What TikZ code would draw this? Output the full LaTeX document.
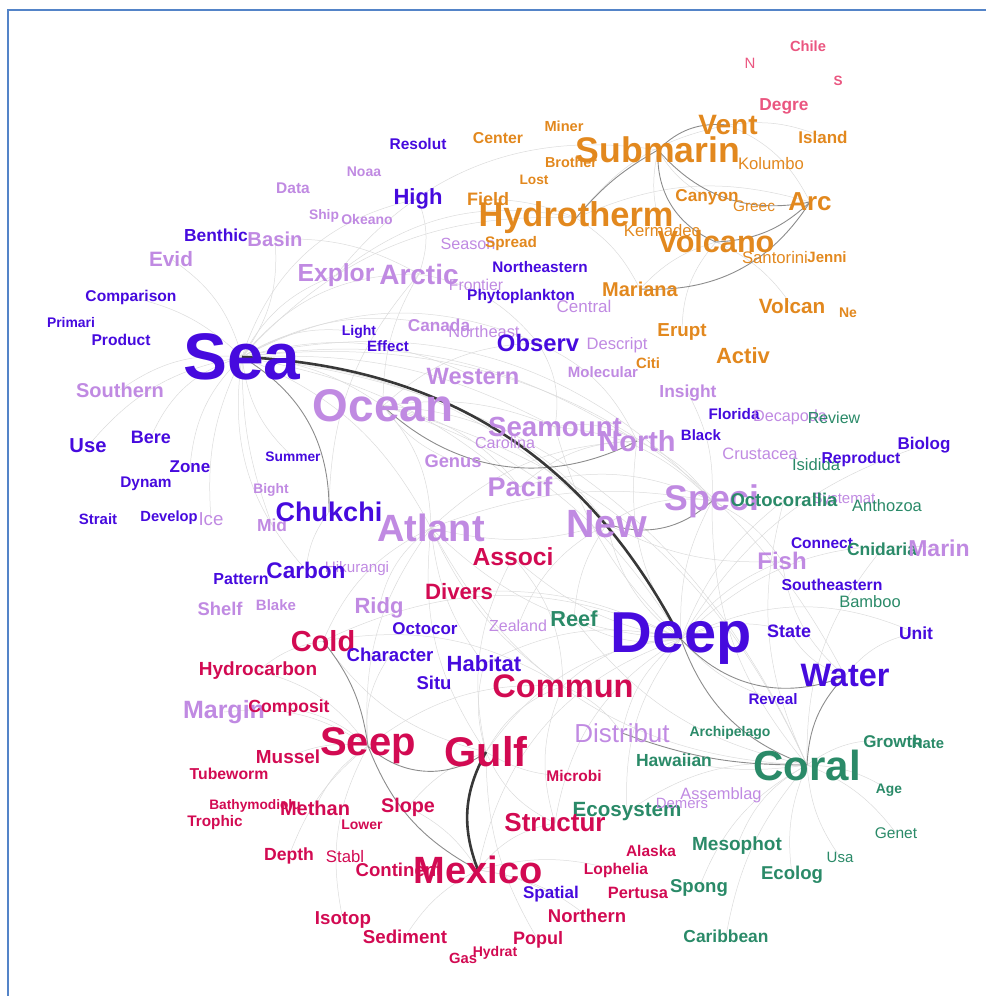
\documentclass[tikz,border=0pt]{standalone}
\usepackage{fontspec}
\setmainfont{Liberation Sans}
\usepackage{xcolor}
\usepackage{tikz}
\usetikzlibrary{backgrounds}

\definecolor{seablue}{RGB}{70,10,222}
\definecolor{lavend}{RGB}{192,138,226}
\definecolor{orng}{RGB}{226,136,30}
\definecolor{crim}{RGB}{210,10,82}
\definecolor{pinkc}{RGB}{234,86,128}
\definecolor{grn}{RGB}{42,138,104}
\definecolor{framec}{RGB}{84,132,200}

\begin{document}
\begin{tikzpicture}[
    x=1pt, y=-1pt,
    wb/.style={inner sep=0pt, font=\bfseries\fontsize{#1}{#1}\selectfont},
    wr/.style={inner sep=0pt, font=\fontsize{#1}{#1}\selectfont},
    bl/.style={text=seablue},
    lv/.style={text=lavend},
    og/.style={text=orng},
    cr/.style={text=crim},
    pk/.style={text=pinkc},
    gn/.style={text=grn},
    lnk/.style={draw=black!14, line width=0.5pt},
    lnkm/.style={draw=black!45, line width=0.9pt},
    lnkd/.style={draw=black!78, line width=2.6pt}
]
    \useasboundingbox (0,0) rectangle (986,996);
    \draw[framec, line width=1.6pt] (8,996) -- (8,10) -- (986,10);

    % volcanic cluster (top right)
    \node[wb=14.7, pk] (chile) at (808,46) {Chile};
    \node[wr=15, pk] (nn) at (750,63) {N};
    \node[wb=13.5, pk] (ss) at (838,81) {S};
    \node[wb=17.3, pk] (degre) at (784,106) {Degre};
    \node[wb=14.6, og] (miner) at (564,126) {Miner};
    \node[wb=15.8, og] (centr) at (498,138) {Center};
    \node[wb=14.4, og] (brother) at (571,162) {Brother};
    \node[wb=13.7, og] (lost) at (534,180) {Lost};
    \node[wb=18, og] (field) at (488,199) {Field};
    \node[wr=16.7, og] (kermadec) at (662,231) {Kermadec};
    \node[wr=15.4, og] (greec) at (754,206) {Greec};
    \node[wb=28, og] (vent) at (728,125) {Vent};
    \node[wb=35.6, og] (submarin) at (658,150) {Submarin};
    \node[wb=17, og] (island) at (823,137) {Island};
    \node[wr=16.7, og] (kolumbo) at (771,164) {Kolumbo};
    \node[wb=17.2, og] (canyon) at (707,197) {Canyon};
    \node[wb=26, og] (arc) at (810,202) {Arc};
    \node[wb=34.4, og] (hydrotherm) at (576,218) {Hydrotherm};
    \node[wb=30.6, og] (volcano) at (716,242) {Volcano};
    \node[wr=16.7, og] (santorini) at (775,258) {Santorini};
    \node[wb=15, og] (jenni) at (827,257) {Jenni};
    \node[wb=20, og] (mariana) at (640,289) {Mariana};
    \node[wb=20.7, og] (volcan) at (792,306) {Volcan};
    \node[wb=14, og] (ne) at (848,313) {Ne};
    \node[wb=18.8, og] (erupt) at (682,332) {Erupt};
    \node[wb=22, og] (activ) at (743,356) {Activ};
    \node[wb=14.9, og] (citi) at (648,363) {Citi};

    % sea / ocean cluster
    \node[wb=15.5, bl] (resolut) at (418,144) {Resolut};
    \node[wb=14, lv] (noaa) at (364,172) {Noaa};
    \node[wb=15.5, lv] (data) at (293,188) {Data};
    \node[wb=22, bl] (high) at (418,199) {High};
    \node[wb=13.8, lv] (ship) at (324,216) {Ship};
    \node[wb=14, lv] (okeano) at (367,219) {Okeano};
    \node[wb=17.4, bl] (benthic) at (216,235) {Benthic};
    \node[wb=20.2, lv] (basin) at (275,239) {Basin};
    \node[wr=16.2, lv] (season) at (468,244) {Season};
    \node[wb=15.3, og] (spread) at (511,244) {Spread};
    \node[wb=20.8, lv] (evid) at (171,259) {Evid};
    \node[wb=15.3, bl] (northeastern) at (540,267) {Northeastern};
    \node[wr=15.7, lv] (frontier) at (476,285) {Frontier};
    \node[wb=24.7, lv] (explor) at (336,275) {Explor};
    \node[wb=28, lv] (arctic) at (419,274) {Arctic};
    \node[wb=15.5, bl] (phytoplankton) at (521,296) {Phytoplankton};
    \node[wb=15.6, bl] (comparison) at (131,297) {Comparison};
    \node[wr=17, lv] (central) at (584,306) {Central};
    \node[wb=13.9, bl] (primari) at (71,323) {Primari};
    \node[wr=16.4, lv] (northeast) at (484,332) {Northeast};
    \node[wb=17.2, lv] (canada) at (439,325) {Canada};
    \node[wb=14, bl] (light) at (359,332) {Light};
    \node[wb=15.6, bl] (product) at (121,340) {Product};
    \node[wb=15, bl] (effect) at (388,346) {Effect};
    \node[wb=23.8, bl] (observ) at (538,343) {Observ};
    \node[wr=16.6, lv] (descript) at (617,345) {Descript};
    \node[wb=65.8, bl] (sea) at (242,357) {Sea};
    \node[wb=15, lv] (molecular) at (603,372) {Molecular};
    \node[wb=23.6, lv] (western) at (473,376) {Western};
    \node[wb=20, lv] (southern) at (120,390) {Southern};
    \node[wb=17.4, lv] (insight) at (688,393) {Insight};
    \node[wb=45.8, lv] (ocean) at (383,406) {Ocean};
    \node[wb=15.3, bl] (florida) at (734,414) {Florida};
    \node[wr=16.2, lv] (decapoda) at (790,417) {Decapoda};
    \node[wr=16, gn] (review) at (834,418) {Review};
    \node[wr=16.1, lv] (carolina) at (505,443) {Carolina};
    \node[wb=27.7, lv] (seamount) at (555,427) {Seamount};
    \node[wb=15, bl] (black) at (701,435) {Black};
    \node[wb=18, bl] (bere) at (151,437) {Bere};
    \node[wb=29, lv] (north) at (637,441) {North};
    \node[wb=17, bl] (biolog) at (924,445) {Biolog};
    \node[wb=20.2, bl] (use) at (88,446) {Use};
    \node[wr=16.5, lv] (crustacea) at (760,454) {Crustacea};
    \node[wb=13.8, bl] (summer) at (293,457) {Summer};
    \node[wr=16.6, gn] (isidida) at (816,465) {Isidida};
    \node[wb=15.8, bl] (reproduct) at (861,459) {Reproduct};
    \node[wb=18.3, lv] (genus) at (453,461) {Genus};
    \node[wb=17, bl] (zone) at (190,467) {Zone};
    \node[wb=15.4, bl] (dynam) at (146,484) {Dynam};
    \node[wb=27, lv] (pacif) at (520,487) {Pacif};
    \node[wb=13.8, lv] (bight) at (271,490) {Bight};
    \node[wb=35.6, lv] (speci) at (712,501) {Speci};
    \node[wr=15, lv] (systemat) at (844,500) {Systemat};
    \node[wb=18.5, gn] (octocorallia) at (784,500) {Octocorallia};
    \node[wr=16.5, gn] (anthozoa) at (887,506) {Anthozoa};
    \node[wb=15, bl] (strait) at (98,519) {Strait};
    \node[wb=14.7, bl] (develop) at (169,518) {Develop};
    \node[wr=18.7, lv] (ice) at (211,519) {Ice};
    \node[wb=17.4, lv] (mid) at (272,525) {Mid};
    \node[wb=27, bl] (chukchi) at (329,512) {Chukchi};
    \node[wb=39.4, lv] (new) at (607,524) {New};
    \node[wb=38, lv] (atlant) at (431,528) {Atlant};
    \node[wb=15.5, bl] (connect) at (822,543) {Connect};
    \node[wb=17.5, gn] (cnidaria) at (882,549) {Cnidaria};
    \node[wb=23, lv] (marin) at (939,548) {Marin};
    \node[wb=24.7, cr] (associ) at (513,557) {Associ};
    \node[wb=24, lv] (fish) at (782,561) {Fish};
    \node[wr=15.2, lv] (hikurangi) at (357,569) {Hikurangi};
    \node[wb=22.6, bl] (carbon) at (306,570) {Carbon};
    \node[wb=16, bl] (pattern) at (241,579) {Pattern};
    \node[wb=15.8, bl] (southeastern) at (832,585) {Southeastern};
    \node[wb=22.2, cr] (divers) at (459,592) {Divers};
    \node[wr=16.5, gn] (bamboo) at (870,602) {Bamboo};
    \node[wb=22, lv] (ridg) at (379,608) {Ridg};
    \node[wb=18.4, lv] (shelf) at (220,609) {Shelf};
    \node[wb=15, lv] (blake) at (276,605) {Blake};
    \node[wb=21.7, gn] (reef) at (574,619) {Reef};
    \node[wr=16, lv] (zealand) at (518,626) {Zealand};
    \node[wb=17, bl] (octocor) at (425,629) {Octocor};
    \node[wb=18, bl] (state) at (789,631) {State};
    \node[wb=17.5, bl] (unit) at (916,633) {Unit};
    \node[wb=57.7, bl] (deep) at (681,639) {Deep};

    % seep / coral clusters (bottom)
    \node[wb=29, cr] (cold) at (323,641) {Cold};
    \node[wb=18.6, bl] (character) at (390,655) {Character};
    \node[wb=22, bl] (habitat) at (484,664) {Habitat};
    \node[wb=19, cr] (hydrocarbon) at (258,671) {Hydrocarbon};
    \node[wb=32.4, bl] (water) at (845,676) {Water};
    \node[wb=18.5, bl] (situ) at (434,683) {Situ};
    \node[wb=32.6, cr] (commun) at (563,686) {Commun};
    \node[wb=15.2, bl] (reveal) at (773,699) {Reveal};
    \node[wb=25, lv] (margin) at (224,712) {Margin};
    \node[wb=17.6, cr] (composit) at (289,708) {Composit};
    \node[wb=14, gn] (archipelago) at (730,733) {Archipelago};
    \node[wr=26, lv] (distribut) at (622,733) {Distribut};
    \node[wb=40, cr] (seep) at (368,746) {Seep};
    \node[wb=17, gn] (growth) at (893,741) {Growth};
    \node[wb=14.8, gn] (rate) at (928,743) {Rate};
    \node[wb=41.5, cr] (gulf) at (486,752) {Gulf};
    \node[wb=18.9, cr] (mussel) at (288,757) {Mussel};
    \node[wb=17.5, gn] (hawaiian) at (674,760) {Hawaiian};
    \node[wb=42, gn] (coral) at (807,765) {Coral};
    \node[wb=15.8, cr] (tubeworm) at (229,774) {Tubeworm};
    \node[wb=15.5, cr] (microbi) at (574,776) {Microbi};
    \node[wb=13.8, gn] (age) at (889,790) {Age};
    \node[wb=20.6, gn] (ecosystem) at (627,812) {Ecosystem};
    \node[wr=14.9, lv] (demers) at (682,803) {Demers};
    \node[wr=16.4, lv] (assemblag) at (721,795) {Assemblag};
    \node[wb=13.7, cr] (bathymodiolu) at (255,806) {Bathymodiolu};
    \node[wb=20, cr] (methan) at (315,808) {Methan};
    \node[wb=19.8, cr] (slope) at (408,807) {Slope};
    \node[wb=15.3, cr] (trophic) at (215,823) {Trophic};
    \node[wb=26, cr] (structur) at (555,823) {Structur};
    \node[wb=14, cr] (lower) at (362,825) {Lower};
    \node[wr=15.5, gn] (genet) at (896,833) {Genet};
    \node[wb=19, gn] (mesophot) at (737,846) {Mesophot};
    \node[wb=15.5, cr] (alaska) at (651,851) {Alaska};
    \node[wb=17.6, cr] (depth) at (289,856) {Depth};
    \node[wr=16.7, cr] (stabl) at (345,857) {Stabl};
    \node[wr=15, gn] (usa) at (840,857) {Usa};
    \node[wb=15.6, cr] (lophelia) at (616,870) {Lophelia};
    \node[wb=18.6, cr] (continent) at (399,870) {Continent};
    \node[wb=38, cr] (mexico) at (478,870) {Mexico};
    \node[wb=18.6, gn] (ecolog) at (792,875) {Ecolog};
    \node[wb=18.6, gn] (spong) at (699,888) {Spong};
    \node[wb=16.4, cr] (pertusa) at (638,893) {Pertusa};
    \node[wb=17, bl] (spatial) at (551,894) {Spatial};
    \node[wb=18.5, cr] (northern) at (587,916) {Northern};
    \node[wb=18.7, cr] (isotop) at (343,920) {Isotop};
    \node[wb=17.4, gn] (caribbean) at (726,936) {Caribbean};
    \node[wb=18.7, cr] (sediment) at (405,937) {Sediment};
    \node[wb=18, cr] (popul) at (538,940) {Popul};
    \node[wb=14.8, cr] (gas) at (463,958) {Gas};
    \node[wb=14, cr] (hydrat) at (495,953) {Hydrat};

    % links behind the words
    \begin{scope}[on background layer]
        \foreach \a/\b/\c in {sea/ocean/15, sea/atlant/20, sea/arctic/25, sea/explor/20, sea/basin/-20,
            sea/western/20, sea/observ/25, sea/north/20, sea/pacif/15, sea/new/20, sea/seamount/15,
            sea/southern/-20, sea/bere/-25, sea/carbon/-25, sea/summer/-20, sea/zone/-20, sea/canada/20,
            sea/light/20, sea/high/30, sea/coral/30, sea/water/35, sea/speci/30, sea/evid/-20,
            sea/comparison/-15, sea/use/-20, sea/ice/-15, sea/mid/-10, sea/hydrotherm/25,
            ocean/atlant/20, ocean/pacif/20, ocean/seamount/15, ocean/deep/20, ocean/new/25,
            ocean/genus/-15, ocean/arctic/15, ocean/coral/25, ocean/observ/20,
            atlant/new/-15, atlant/deep/-20, atlant/north/20, atlant/coral/-30, atlant/seep/-20,
            atlant/gulf/-20, atlant/commun/-15, atlant/ridg/-20, atlant/cold/-20, atlant/speci/15,
            atlant/habitat/-15, new/zealand/-20, new/speci/20, new/deep/-20, new/reef/-15, new/fish/-15,
            deep/speci/15, deep/seamount/15, deep/habitat/-20, deep/commun/-20, deep/gulf/-25,
            deep/fish/15, deep/reef/20, deep/state/20, deep/unit/25, deep/reveal/-15, deep/distribut/-20,
            deep/ecosystem/-20, deep/structur/-25, deep/divers/-15, deep/associ/15, deep/cold/-25,
            deep/mexico/-30, deep/north/20, deep/marin/25, deep/biolog/20, deep/octocorallia/15,
            coral/reef/20, coral/ecosystem/-20, coral/mesophot/-20, coral/growth/20, coral/age/15,
            coral/genet/15, coral/spong/-20, coral/ecolog/-15, coral/usa/-15, coral/speci/20,
            coral/octocorallia/20, coral/cnidaria/20, coral/caribbean/-15, coral/hawaiian/10,
            water/state/20, water/unit/20, water/fish/20,
            gulf/commun/20, gulf/structur/-20, gulf/habitat/15, gulf/slope/-15, gulf/microbi/-15,
            gulf/popul/-15, gulf/cold/20, gulf/associ/20,
            mexico/structur/20, mexico/slope/-15, mexico/northern/15, mexico/spatial/10,
            mexico/sediment/-15, mexico/lophelia/15,
            seep/methan/-15, seep/mussel/-15, seep/hydrocarbon/-20, seep/composit/-15, seep/commun/20,
            seep/isotop/-20, seep/depth/-15, seep/margin/-20, seep/character/20,
            cold/hydrocarbon/-15, cold/commun/20, commun/associ/-20, commun/structur/-20,
            commun/distribut/15, speci/north/-15, speci/fish/15, speci/insight/-15, speci/pacif/-20,
            speci/seamount/-20, seamount/north/20, seamount/observ/-20, pacif/north/20,
            arctic/chukchi/-20, arctic/high/-20, arctic/basin/-15, arctic/observ/20,
            hydrotherm/vent/20, hydrotherm/field/-10, hydrotherm/mariana/15, hydrotherm/arc/20,
            vent/arc/20, vent/island/15, volcano/mariana/-15, volcano/erupt/-20, volcano/volcan/15,
            submarin/canyon/-15, submarin/kermadec/-15, explor/submarin/30, explor/hydrotherm/25,
            observ/north/20, chukchi/carbon/-15}
            \draw[lnk] (\a.center) to[bend left=\c] (\b.center);

        \draw[lnkm] (sea.center) to[bend left=30] (chukchi.center);
        \draw[lnkm] (submarin.center) to[bend right=35] (volcano.center);
        \draw[lnkm] (submarin.center) to[bend right=30] (arc.center);
        \draw[lnkm] (submarin.center) to[bend left=25] (vent.center);
        \draw[lnkm] (hydrotherm.center) to[bend left=10] (submarin.center);
        \draw[lnkm] (volcano.center) to[bend right=20] (arc.center);
        \draw[lnkm] (mariana.center) to[bend right=30] (arc.center);
        \draw[lnkm] (seep.center) to[bend right=40] (gulf.center);
        \draw[lnkm] (cold.center) to[bend left=15] (seep.center);
        \draw[lnkm] (seep.center) to[bend right=20] (mexico.center);
        \draw[lnkm] (deep.center) to[bend right=35] (water.center);
        \draw[lnkm] (deep.center) to[bend right=25] (coral.center);
        \draw[lnkm] (water.center) to[bend right=20] (coral.center);
        \draw[lnkm] (speci.center) to[bend left=30] (new.center);
        \draw[lnkm] (ocean.center) to[bend right=35] (north.center);
        \draw[lnkm] (coral.center) to[bend left=10] (distribut.center);

        \draw[lnkd] (sea.center) to[bend left=30] (deep.center);
        \draw[lnkd] (gulf.center) to[bend right=25] (mexico.center);
    \end{scope}
\end{tikzpicture}
\end{document}
